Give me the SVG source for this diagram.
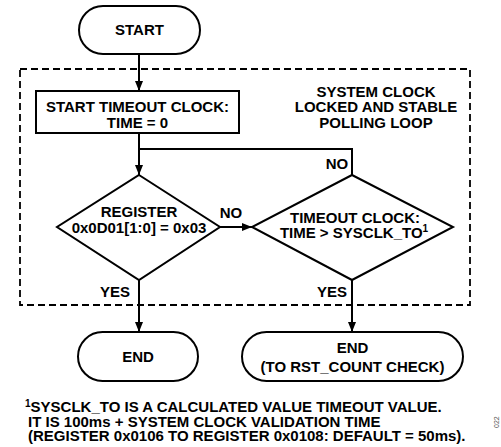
<svg xmlns="http://www.w3.org/2000/svg" width="501" height="447" viewBox="0 0 501 447">
<defs>
<marker id="arr" markerUnits="userSpaceOnUse" markerWidth="10" markerHeight="10" viewBox="0 0 10 10" refX="10" refY="5" orient="auto">
<path d="M0,1 L10,5 L0,9 Z" fill="#000"/>
</marker>
<style>
.s{fill:#fff;stroke:#000;stroke-width:2}
.c{fill:none;stroke:#000;stroke-width:2}
.t{font-family:"Liberation Sans",Arial,sans-serif;font-weight:bold;font-size:15px;fill:#000}
.m{text-anchor:middle}
</style>
</defs>
<rect width="501" height="447" fill="#fff"/>
<rect id="loop" x="20" y="69" width="450" height="236" fill="none" stroke="#000" stroke-width="1.8" stroke-dasharray="7 4"/>
<g id="connectors">
<path class="c" d="M139,54 V91" marker-end="url(#arr)"/>
<path class="c" d="M139,133 V175" marker-end="url(#arr)"/>
<path class="c" d="M352,175 V149 H139"/>
<path class="c" d="M220,227 H252" marker-end="url(#arr)"/>
<path class="c" d="M139,280 V332" marker-end="url(#arr)"/>
<path class="c" d="M352,280 V332" marker-end="url(#arr)"/>
<text class="t m" x="337" y="169">NO</text>
<text class="t m" x="231" y="218">NO</text>
<text class="t" x="130" y="297" text-anchor="end">YES</text>
<text class="t" x="347" y="297" text-anchor="end">YES</text>
</g>
<g id="start">
<rect class="s" x="79" y="6" width="121" height="48" rx="24"/>
<text class="t m" x="139.5" y="35">START</text>
</g>
<g id="timeout_start">
<rect class="s" x="36" y="91" width="203" height="42"/>
<text class="t m" x="137.5" y="112">START TIMEOUT CLOCK:</text>
<text class="t m" x="137.5" y="128">TIME = 0</text>
</g>
<g id="loop_label">
<text class="t m" x="376" y="97">SYSTEM CLOCK</text>
<text class="t m" x="376" y="112">LOCKED AND STABLE</text>
<text class="t m" x="376" y="128">POLLING LOOP</text>
</g>
<g id="register_check">
<path class="s" d="M139,175 L220,227 L139,280 L57,227 Z"/>
<text class="t m" x="139" y="217">REGISTER</text>
<text class="t m" x="139" y="233">0x0D01[1:0] = 0x03</text>
</g>
<g id="timeout_check">
<path class="s" d="M352,175 L453,227 L352,280 L252,227 Z"/>
<text class="t m" x="355" y="223">TIMEOUT CLOCK:</text>
<text class="t m" x="354" y="238">TIME &gt; SYSCLK_TO<tspan font-size="10" dy="-6">1</tspan></text>
</g>
<g id="end1">
<rect class="s" x="78" y="332" width="120" height="49" rx="24.5"/>
<text class="t m" x="138" y="362">END</text>
</g>
<g id="end2">
<rect class="s" x="242" y="332" width="221" height="49" rx="24.5"/>
<text class="t m" x="352.5" y="353">END</text>
<text class="t m" x="352.5" y="372">(TO RST_COUNT CHECK)</text>
</g>
<g id="footnote">
<text class="t" x="25" y="412"><tspan font-size="10" dy="-5">1</tspan><tspan dy="5">SYSCLK_TO IS A CALCULATED VALUE TIMEOUT VALUE.</tspan></text>
<text class="t" x="28" y="427"> IT IS 100ms + SYSTEM CLOCK VALIDATION TIME</text>
<text class="t" x="28" y="441">(REGISTER 0x0106 TO REGISTER 0x0108: DEFAULT = 50ms).</text>
<text x="499" y="428" transform="rotate(-90 499 428)" font-family="Liberation Sans,Arial,sans-serif" font-size="7" fill="#555">022</text>
</g>
</svg>
